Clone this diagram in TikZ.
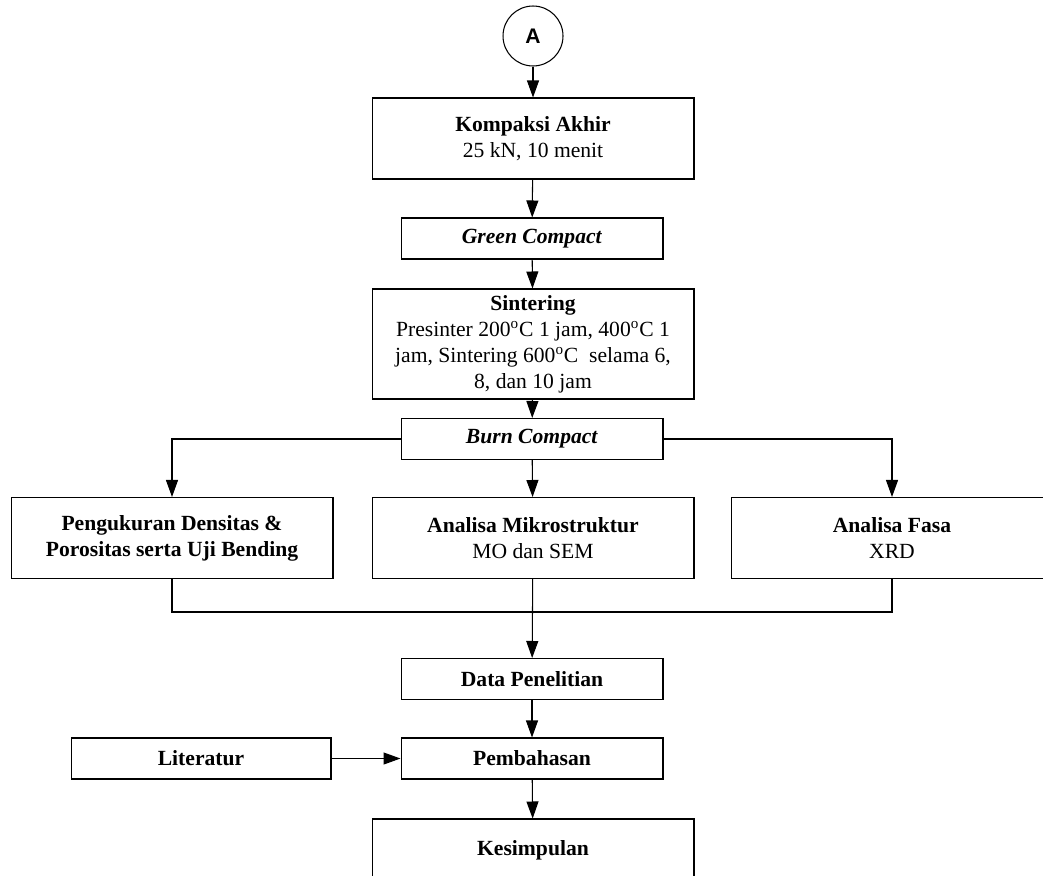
\documentclass[tikz,border=0pt]{standalone}
\usepackage{fontspec}
\setmainfont{Liberation Serif}
\newfontfamily\sansA{Liberation Sans}
\usetikzlibrary{arrows.meta}

\begin{document}
\begin{tikzpicture}[x=0.02cm, y=-0.02cm, line width=0.6pt,
    >={Triangle[length=0.34cm, width=0.24cm]},
    font=\fontsize{12.3}{14.8}\selectfont,
    bigbox/.style={draw, minimum width=6.44cm, minimum height=1.62cm, align=center, inner sep=0pt},
    smallbox/.style={draw, minimum width=5.24cm, minimum height=0.82cm, align=center, inner sep=0pt}]
\useasboundingbox (0,0) rectangle (1043,875);
\coordinate (join) at (533,612);
\node[draw, circle, minimum size=1.2cm, inner sep=0pt, font=\sansA\bfseries\fontsize{12}{14}\selectfont] (A) at (533,36) {A};
\node[bigbox] (komp) at (533,138.5) {\textbf{Kompaksi Akhir}\\25 kN, 10 menit};
\node[smallbox] (green) at (532,238.5) {\textbf{\textit{Green Compact}}};
\node[bigbox, minimum height=2.2cm] (sinter) at (533,344) {\textbf{Sintering}\\Presinter 200\textsuperscript{o}C 1 jam, 400\textsuperscript{o}C 1\\jam, Sintering 600\textsuperscript{o}C\ \ selama 6,\\8, dan 10 jam};
\node[smallbox] (burn) at (532,439) {\textbf{\textit{Burn Compact}}};
\node[bigbox] (uji) at (172,538) {\textbf{Pengukuran Densitas \&}\\\textbf{Porositas serta Uji Bending}};
\node[bigbox] (mikro) at (533,538) {\textbf{Analisa Mikrostruktur}\\MO dan SEM};
\node[bigbox] (fasa) at (892,538) {\textbf{Analisa Fasa}\\XRD};
\node[smallbox] (data) at (532,679) {\textbf{Data Penelitian}};
\node[smallbox] (bahas) at (532,758.5) {\textbf{Pembahasan}};
\node[smallbox, minimum width=5.2cm] (lit) at (201,758.5) {\textbf{Literatur}};
\node[bigbox, minimum height=1.24cm] (simpul) at (533,850) {\textbf{Kesimpulan}};
\draw[->] (A) -- (komp);
\draw[->] (komp) -- (green);
\draw[->] (green) -- (sinter);
\draw[->] (sinter) -- (burn);
\draw[->] (burn.west) -| (uji.north);
\draw[->] (burn.east) -| (fasa.north);
\draw[->] (burn) -- (mikro);
\draw (uji.south) |- (fasa.south |- join) -- (fasa.south);
\draw[->] (mikro) -- (data);
\draw[->] (data) -- (bahas);
\draw[->] (lit) -- (bahas);
\draw[->] (bahas) -- (simpul);
\end{tikzpicture}
\end{document}
